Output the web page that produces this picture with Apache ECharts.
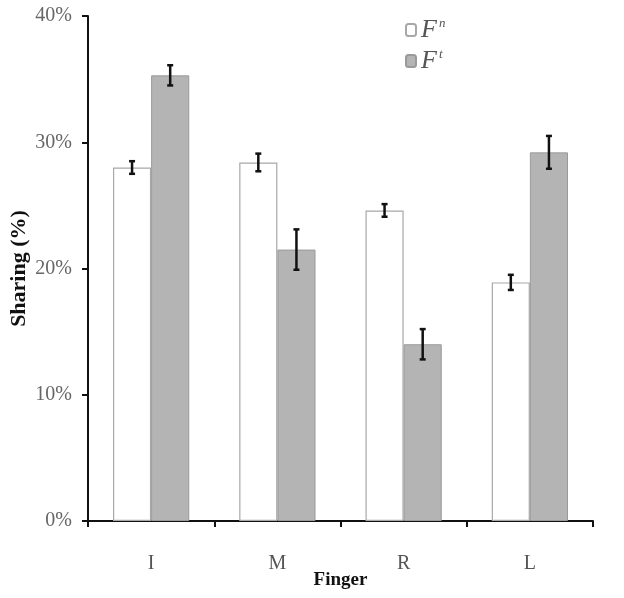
<!DOCTYPE html>
<html>
<head>
<meta charset="utf-8">
<script src="https://cdn.jsdelivr.net/npm/echarts@6/dist/echarts.min.js"></script>
<style>html,body{margin:0;padding:0;background:#fff;}#c{width:624px;height:598px;}</style>
</head>
<body>
<div id="c"></div>
<script>
const categories = ['I', 'M', 'R', 'L'];
const fnValues = [28.0, 28.4, 24.6, 18.9];
const fnErrors = [0.5, 0.7, 0.5, 0.6];
const ftValues = [35.3, 21.5, 14.0, 29.2];
const ftErrors = [0.8, 1.6, 1.2, 1.3];
const yTicks = [0, 10, 20, 30, 40];

const chart = echarts.init(document.getElementById('c'));
const serif = '"Liberation Serif", "DejaVu Serif", serif';
const BAR_FRAC = 0.302;

function errorSeries(values, errors, seriesIndex) {
  return {
    type: 'custom',
    name: 'err' + seriesIndex,
    z: 10,
    silent: true,
    data: values.map((v, i) => [i, v - errors[i], v + errors[i]]),
    renderItem: function (params, api) {
      const idx = api.value(0);
      const lo = api.coord([idx, api.value(1)]);
      const hi = api.coord([idx, api.value(2)]);
      const bw = api.size([1, 0])[0];
      const barW = bw * BAR_FRAC;
      const offset = seriesIndex === 0 ? -barW / 2 : barW / 2;
      const x = lo[0] + offset;
      const cap = 3;
      const style = { stroke: '#111', lineWidth: 2.5 };
      return {
        type: 'group',
        children: [
          { type: 'line', shape: { x1: x, y1: lo[1], x2: x, y2: hi[1] }, style: style },
          { type: 'line', shape: { x1: x - cap, y1: lo[1], x2: x + cap, y2: lo[1] }, style: style },
          { type: 'line', shape: { x1: x - cap, y1: hi[1], x2: x + cap, y2: hi[1] }, style: style }
        ]
      };
    }
  };
}

chart.setOption({
  animation: false,
  backgroundColor: '#fff',
  grid: { left: 88, right: 31, top: 16, bottom: 77, containLabel: false, outerBoundsMode: 'none' },
  legend: {
    data: ['Fn', 'Ft'],
    orient: 'vertical',
    left: 400,
    top: 12,
    itemWidth: 10,
    itemHeight: 12,
    itemGap: 5,
    formatter: function (name) {
      return name === 'Fn' ? '{f|F}{s|n}' : '{f|F}{s|t}';
    },
    textStyle: {
      rich: {
        f: { fontFamily: serif, fontStyle: 'italic', fontSize: 26, color: '#555', lineHeight: 26 },
        s: { fontFamily: serif, fontStyle: 'italic', fontSize: 13, color: '#555', verticalAlign: 'top', padding: [0, 0, 12, 2] }
      }
    }
  },
  xAxis: {
    type: 'category',
    data: categories,
    name: 'Finger',
    nameLocation: 'middle',
    nameGap: 50,
    nameMoveOverlap: false,
    nameTextStyle: { fontFamily: serif, fontWeight: 'bold', fontSize: 19, color: '#111' },
    axisLine: { lineStyle: { color: '#111', width: 2 } },
    axisTick: { show: true, interval: 0, length: 6, lineStyle: { color: '#111', width: 2 } },
    axisLabel: { fontFamily: serif, fontSize: 20, color: '#555', margin: 33 },
    splitLine: { show: false }
  },
  yAxis: {
    type: 'value',
    min: 0,
    max: 40,
    interval: 10,
    name: 'Sharing (%)',
    nameLocation: 'middle',
    nameGap: 58,
    nameMoveOverlap: false,
    nameTextStyle: { fontFamily: serif, fontWeight: 'bold', fontSize: 22, color: '#111' },
    axisLine: { show: true, lineStyle: { color: '#111', width: 2 } },
    axisTick: { show: true, length: 6, lineStyle: { color: '#111', width: 2 } },
    axisLabel: {
      fontFamily: serif, fontSize: 20, color: '#666', margin: 16,
      formatter: function (v) { return yTicks.indexOf(v) >= 0 ? v + '%' : ''; }
    },
    splitLine: { show: false }
  },
  series: [
    {
      name: 'Fn',
      type: 'bar',
      data: fnValues,
      barWidth: (BAR_FRAC * 100) + '%',
      barGap: '0%',
      itemStyle: { color: '#ffffff', borderColor: '#a8a8a8', borderWidth: 1.2 }
    },
    {
      name: 'Ft',
      type: 'bar',
      data: ftValues,
      barWidth: (BAR_FRAC * 100) + '%',
      barGap: '0%',
      itemStyle: { color: '#b4b4b4', borderColor: '#9a9a9a', borderWidth: 1 }
    },
    errorSeries(fnValues, fnErrors, 0),
    errorSeries(ftValues, ftErrors, 1)
  ]
});
</script>
</body>
</html>
